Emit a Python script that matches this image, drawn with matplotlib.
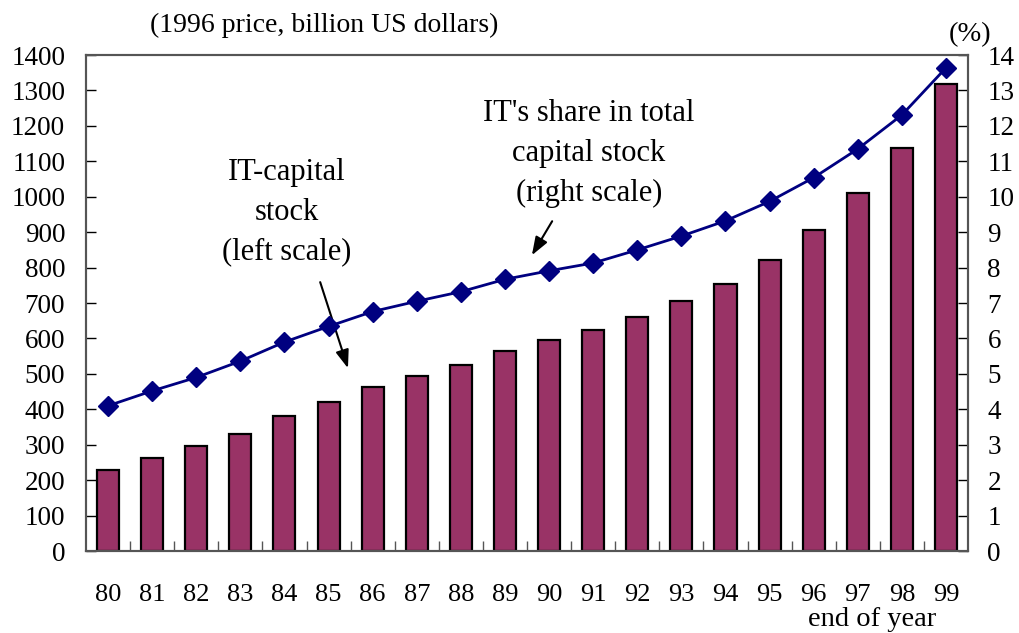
import numpy as np
import matplotlib
matplotlib.use("Agg")
import matplotlib.pyplot as plt

plt.rcParams["font.family"] = ["Liberation Serif", "DejaVu Serif"]

years = ["80", "81", "82", "83", "84", "85", "86", "87", "88", "89",
         "90", "91", "92", "93", "94", "95", "96", "97", "98", "99"]
# IT-capital stock, 1996 prices, billion US dollars (left scale)
it_stock = [230, 263, 296, 331, 380, 422, 462, 493, 526, 566,
            595, 624, 660, 705, 755, 821, 905, 1010, 1139, 1317]
# IT's share in total capital stock, % (right scale)
it_share = [4.10, 4.52, 4.90, 5.36, 5.90, 6.34, 6.76, 7.05, 7.32, 7.67,
            7.91, 8.13, 8.50, 8.89, 9.32, 9.87, 10.54, 11.35, 12.31, 13.64]

bar_color = "#993366"
line_color = "#000080"
spine_color = "#555555"

fig = plt.figure(figsize=(10.19, 6.33), dpi=100)
ax = fig.add_axes([0.0844, 0.1295, 0.8656, 0.7835])
ax2 = ax.twinx()

x = np.arange(len(years))
ax.bar(x, it_stock, width=0.5, color=bar_color, edgecolor="black", linewidth=1.6, zorder=2)
ax2.plot(x, it_share, color=line_color, linewidth=2, marker="D", markersize=10,
         markerfacecolor=line_color, markeredgecolor=line_color, zorder=3)

ax.set_xlim(-0.5, len(years) - 0.5)
ax.set_ylim(0, 1400)
ax2.set_ylim(0, 14)
ax.set_yticks(np.arange(0, 1401, 100))
ax2.set_yticks(np.arange(0, 15, 1))

ax.set_xticks(x)
ax.set_xticklabels(years)
ax.set_xticks(np.arange(0.5, len(years) - 0.5, 1), minor=True)
ax.tick_params(axis="x", which="major", length=0, pad=24, labelsize=19)
ax.tick_params(axis="x", which="minor", direction="in", length=7, width=1, color=spine_color)
ax.tick_params(axis="y", direction="in", length=7, width=1, pad=15, labelsize=19.5, color="black")
ax2.tick_params(axis="y", direction="in", length=7, width=1, pad=14, labelsize=19.5, color="black")

for a in (ax, ax2):
    for s in a.spines.values():
        s.set_color(spine_color)
        s.set_linewidth(1.5)

fig.text(150 / 1019, 1 - 25 / 633, "(1996 price, billion US dollars)", fontsize=20,
         ha="left", va="center")
fig.text(970 / 1019, 1 - 35 / 633, "(%)", fontsize=20.5, ha="center", va="center")
fig.text(872 / 1019, 1 - 620 / 633, "end of year", fontsize=20.5, ha="center", va="center")

ax.text(4.06, 957, "IT-capital\nstock\n(left scale)", fontsize=22, ha="center", va="center",
        linespacing=1.5, zorder=5)
ax.text(10.9, 1123, "IT's share in total\ncapital stock\n(right scale)", fontsize=22,
        ha="center", va="center", linespacing=1.5, zorder=5)

arrow = dict(arrowstyle="-|>,head_length=1.1,head_width=0.4", color="black", lw=1.5,
             shrinkA=0, shrinkB=0)
ax.annotate("", xy=(5.44, 516), xytext=(4.81, 759), arrowprops=arrow)
ax.annotate("", xy=(9.61, 835), xytext=(10.07, 931), arrowprops=arrow)

fig.savefig("out.png", dpi=100)
